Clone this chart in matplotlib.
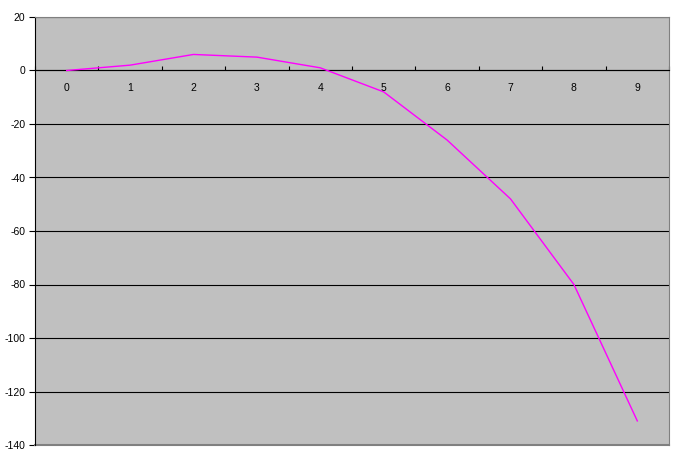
import numpy as np
import matplotlib.pyplot as plt
from matplotlib.ticker import MultipleLocator

categories = ["0", "1", "2", "3", "4", "5", "6", "7", "8", "9"]
values = [0, 2, 6, 5, 1, -8, -26, -48, -80, -131]

plt.rcParams["font.family"] = ["Liberation Sans", "DejaVu Sans"]
plt.rcParams["axes.unicode_minus"] = False

fig = plt.figure(figsize=(6.75, 4.62), dpi=100)
ax = fig.add_axes([35 / 675, 17 / 462, 634 / 675, 428 / 462])
ax.set_facecolor("#c0c0c0")

xs = np.arange(len(categories))
ax.plot(xs, values, color="#ff00ff", linewidth=1.0, zorder=3)

ax.set_xlim(-0.5, len(categories) - 0.5)
ax.set_ylim(-140, 20)

# y axis
ax.yaxis.set_major_locator(MultipleLocator(20))
ax.grid(axis="y", color="black", linewidth=0.8, zorder=1)
ax.tick_params(axis="y", direction="out", length=4, width=0.8, labelsize=7.5, pad=3)

# x axis crosses at 0
ax.spines["bottom"].set_position(("data", 0))
ax.spines["bottom"].set_color("black")
ax.spines["bottom"].set_linewidth(0.8)
ax.set_xticks(xs)
ax.set_xticklabels(categories)
ax.set_xticks(np.arange(-0.5, len(categories)), minor=True)
ax.tick_params(axis="x", which="major", length=0, labelsize=7.5, pad=9)
ax.tick_params(axis="x", which="minor", direction="in", length=3, width=0.8)

ax.spines["left"].set_color("black")
ax.spines["left"].set_linewidth(0.8)
ax.spines["top"].set_color("#808080")
ax.spines["right"].set_color("#808080")
ax.axhline(-140, color="#808080", linewidth=1.5, zorder=2, clip_on=False)

fig.savefig("out.png", dpi=100)
